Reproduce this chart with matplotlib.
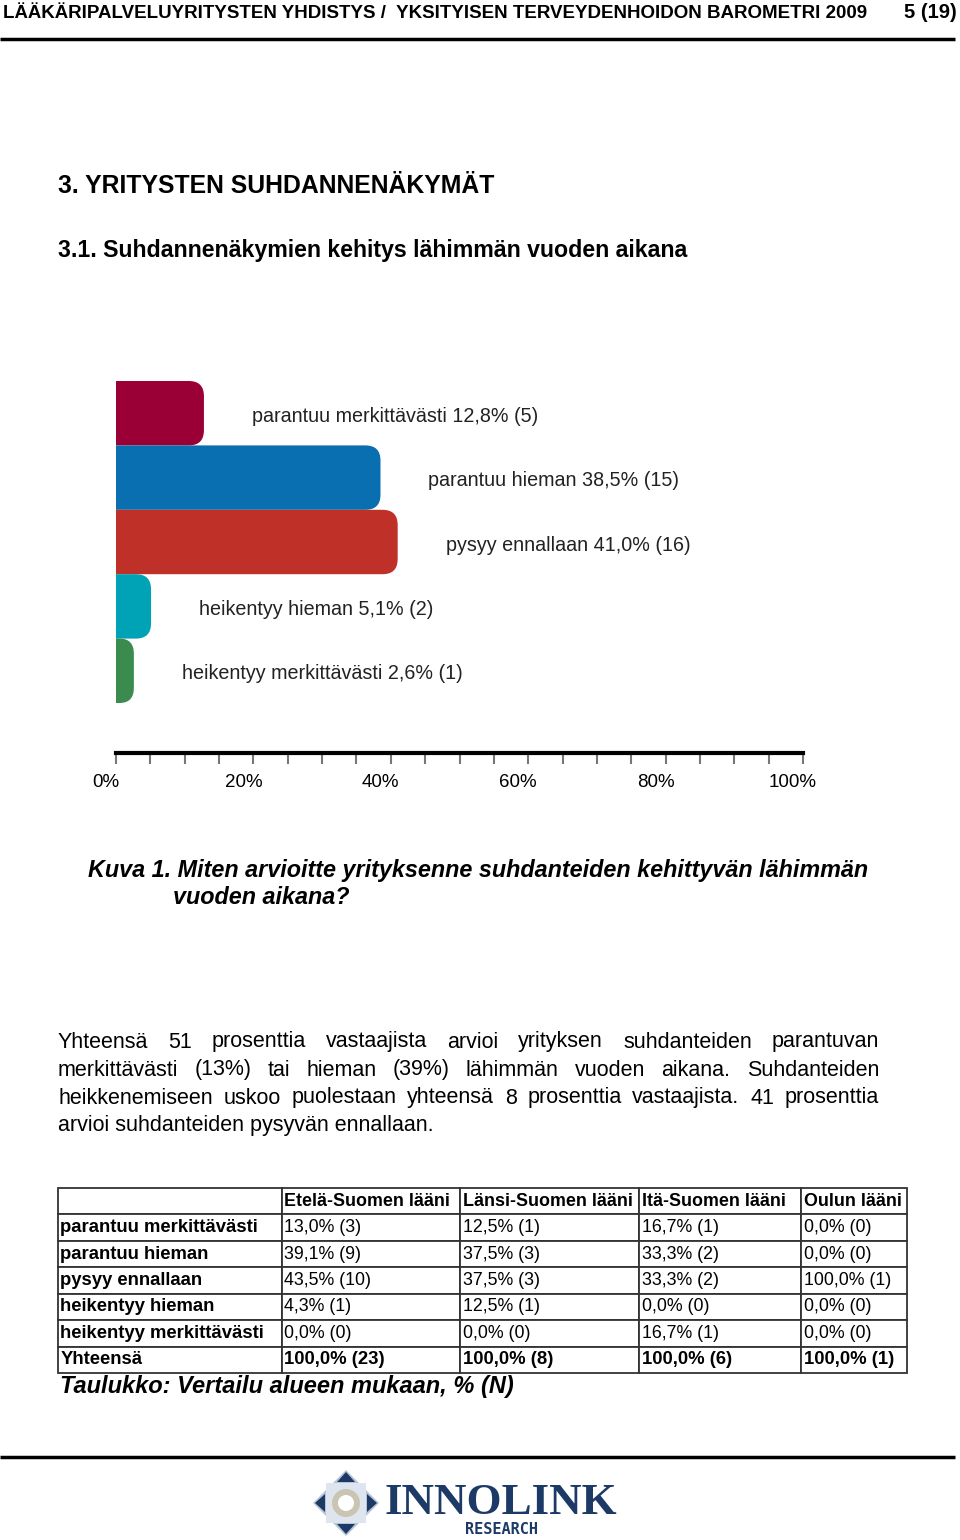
import matplotlib
matplotlib.use("Agg")
import matplotlib.pyplot as plt
from matplotlib.path import Path
from matplotlib.patches import PathPatch, Polygon, Circle
from matplotlib.transforms import ScaledTranslation

plt.rcParams['font.family'] = ['Liberation Sans', 'DejaVu Sans']

# chart data
categories = ["parantuu merkittävästi", "parantuu hieman", "pysyy ennallaan",
              "heikentyy hieman", "heikentyy merkittävästi"]
shares = [12.8, 38.5, 41.0, 5.1, 2.6]
counts = [5, 15, 16, 2, 1]
bar_colors = ["#9a0036", "#0a6fb0", "#bf3028", "#00a2b5", "#3b8a4e"]
x_ticks = [0, 20, 40, 60, 80, 100]

# table data
regions = ["Etelä-Suomen lääni", "Länsi-Suomen lääni", "Itä-Suomen lääni", "Oulun lääni"]
etela_pct = [13.0, 39.1, 43.5, 4.3, 0.0]
etela_n = [3, 9, 10, 1, 0]
lansi_pct = [12.5, 37.5, 37.5, 12.5, 0.0]
lansi_n = [1, 3, 3, 1, 0]
ita_pct = [16.7, 33.3, 33.3, 0.0, 16.7]
ita_n = [1, 2, 2, 0, 1]
oulu_pct = [0.0, 0.0, 100.0, 0.0, 0.0]
oulu_n = [0, 0, 1, 0, 0]

paragraph = [
    "Yhteensä 51 prosenttia vastaajista arvioi yrityksen suhdanteiden parantuvan",
    "merkittävästi (13%) tai hieman (39%) lähimmän vuoden aikana. Suhdanteiden",
    "heikkenemiseen uskoo puolestaan yhteensä 8 prosenttia vastaajista. 41 prosenttia",
    "arvioi suhdanteiden pysyvän ennallaan.",
]


def fi(p, n):
    return ("%.1f" % p).replace(".", ",") + "%% (%d)" % n


fig = plt.figure(figsize=(9.6, 15.4), dpi=100)

# page layer in pixel coordinates
pg = fig.add_axes([0, 0, 1, 1])
pg.set_xlim(0, 960)
pg.set_ylim(1540, 0)
pg.axis('off')

pg.text(3, 14, "LÄÄKÄRIPALVELUYRITYSTEN YHDISTYS /  YKSITYISEN TERVEYDENHOIDON BAROMETRI 2009",
        fontsize=13.5, weight='bold', va='center')
pg.text(957, 13, "5 (19)", fontsize=14.5, weight='bold', va='center', ha='right')
pg.plot([0, 955], [39, 39], color='black', lw=2.5, solid_capstyle='butt')

pg.text(58, 186, "3. YRITYSTEN SUHDANNENÄKYMÄT", fontsize=17.8, weight='bold', va='center')
pg.text(58, 250, "3.1. Suhdannenäkymien kehitys lähimmän vuoden aikana", fontsize=16.7,
        weight='bold', va='center')

# bar chart
ax = fig.add_axes([116 / 960, 1 - 753 / 1540, 687 / 960, 372 / 1540])
ax.patch.set_alpha(0)
ax.set_xlim(0, 100)
ax.set_ylim(5 - 372 / 64.4, 5)
rx, ry = 2.2, 0.235
for i, (cat, s, n, c) in enumerate(zip(categories, shares, counts, bar_colors)):
    y0, y1 = 4 - i, 5 - i
    r = min(rx, s * 0.8)
    verts = [(0, y0), (s - r, y0), (s, y0), (s, y0 + ry), (s, y1 - ry), (s, y1), (s - r, y1),
             (0, y1), (0, y0)]
    codes = [Path.MOVETO, Path.LINETO, Path.CURVE3, Path.CURVE3, Path.LINETO, Path.CURVE3,
             Path.CURVE3, Path.LINETO, Path.CLOSEPOLY]
    ax.add_patch(PathPatch(Path(verts, codes), facecolor=c, edgecolor='none'))
    ax.annotate(cat + " " + fi(s, n), (s, y0 + 0.5),
                xytext=(48, -3), textcoords='offset pixels', va='center', fontsize=14.2,
                color='#222222')

for sp in ['left', 'top', 'right']:
    ax.spines[sp].set_visible(False)
ax.spines['bottom'].set_linewidth(3)
ax.set_yticks([])
ax.set_xticks(x_ticks)
ax.set_xticks(range(0, 101, 5), minor=True)
ax.set_xticklabels(["%d%%" % t for t in x_ticks])
ax.tick_params(axis='x', which='both', direction='out', length=8, width=1.5,
               color='#777777', labelsize=13.5, pad=7)
for lbl in ax.get_xticklabels():
    lbl.set_transform(lbl.get_transform() + ScaledTranslation(-0.1, 0, fig.dpi_scale_trans))

pg.text(88, 871, "Kuva 1. Miten arvioitte yrityksenne suhdanteiden kehittyvän lähimmän",
        fontsize=16.8, weight='bold', style='italic', va='center')
pg.text(173, 898, "vuoden aikana?", fontsize=16.8, weight='bold', style='italic', va='center')

# justified paragraph
renderer = fig.canvas.get_renderer()
for k, line in enumerate(paragraph):
    y = 1042 + 28 * k
    if k == len(paragraph) - 1:
        pg.text(58, y, line, fontsize=15.5, va='center')
        continue
    words = line.split()
    texts = [pg.text(0, y, w, fontsize=15.5, va='center') for w in words]
    widths = [t.get_window_extent(renderer).width for t in texts]
    gap = (879 - 58 - sum(widths)) / (len(words) - 1)
    x = 58
    for t, w in zip(texts, widths):
        t.set_x(x)
        x += w + gap

# table
col_px = [224, 178, 179, 162, 106]
tab = fig.add_axes([58 / 960, 1 - 1373 / 1540, 849 / 960, 185 / 1540])
tab.axis('off')
body = []
for j, cat in enumerate(categories):
    body.append([cat, fi(etela_pct[j], etela_n[j]), fi(lansi_pct[j], lansi_n[j]),
                 fi(ita_pct[j], ita_n[j]), fi(oulu_pct[j], oulu_n[j])])
body.append(["Yhteensä", fi(100, sum(etela_n)), fi(100, sum(lansi_n)),
             fi(100, sum(ita_n)), fi(100, sum(oulu_n))])
tbl = tab.table(cellText=body, colLabels=[""] + regions, colLoc='left',
                colWidths=[w / 849 for w in col_px], cellLoc='left', bbox=[0, 0, 1, 1])
tbl.auto_set_font_size(False)
for (r, c), cell in tbl.get_celld().items():
    cell.set_edgecolor('#333333')
    cell.set_linewidth(1.3)
    cell.PAD = 2.5 / col_px[c]
    t = cell.get_text()
    if r == 0:
        t.set_fontsize(12.9)
        t.set_weight('bold')
    elif c == 0 or r == 6:
        t.set_fontsize(13.3)
        t.set_weight('bold')
    else:
        t.set_fontsize(12.8)

pg.text(60, 1386, "Taulukko: Vertailu alueen mukaan, % (N)", fontsize=17,
        weight='bold', style='italic', va='center')

pg.plot([0, 955], [1457, 1457], color='black', lw=2.5, solid_capstyle='butt')

# logo
cx, cy = 346, 1503
pg.add_patch(Polygon([(cx, 1470), (379, cy), (cx, 1536), (313, cy)], closed=True,
                     fc='#b6c4d8', ec='none'))
pg.add_patch(Polygon([(cx - 20, cy - 20), (cx + 20, cy - 20), (cx + 20, cy + 20),
                      (cx - 20, cy + 20)], closed=True, fc='#dfe5ee', ec='none'))
pg.add_patch(Circle((cx, cy), 14, fc='#c9c5b2', ec='none'))
pg.add_patch(Circle((cx, cy), 8, fc='white', ec='none'))
for tri in [[(cx, 1472), (cx - 9, 1482), (cx + 9, 1482)],
            [(cx, 1534), (cx - 9, 1524), (cx + 9, 1524)],
            [(315, cy), (325, cy - 9), (325, cy + 9)],
            [(377, cy), (367, cy - 9), (367, cy + 9)]]:
    pg.add_patch(Polygon(tri, closed=True, fc='#1d3a66', ec='none'))
pg.text(385, 1503, "INNOLINK", family=['Liberation Serif', 'DejaVu Serif'], weight='bold',
        fontsize=32.4, color='#1d3a66', va='center')
pg.text(501, 1530, "RESEARCH", family=['DejaVu Sans Mono'], weight='bold', fontsize=11,
        color='#1d3a66', va='center', ha='center')

fig.savefig("out.png", dpi=100)
